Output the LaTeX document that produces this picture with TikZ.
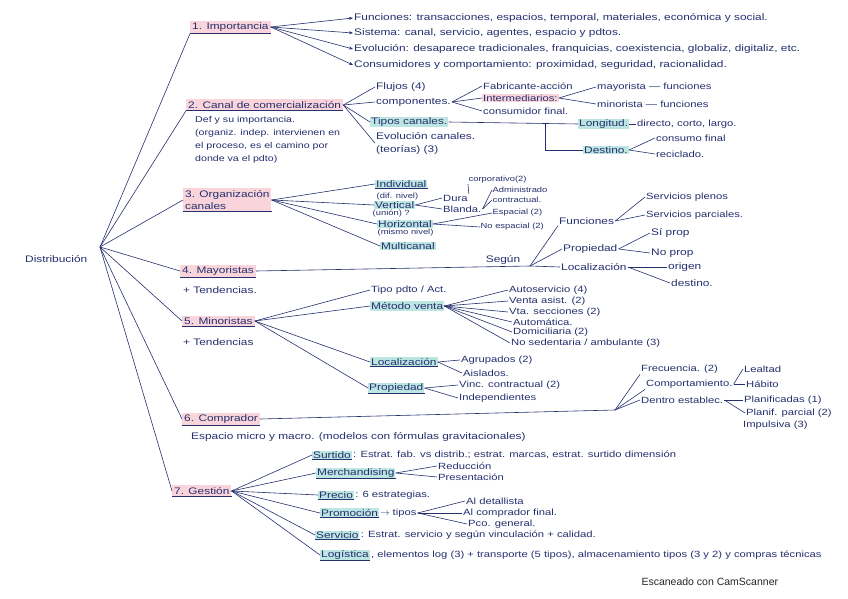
\documentclass[tikz,border=0pt]{standalone}
\usepackage{fontspec}
\setmainfont[FakeStretch=1.25]{Liberation Sans}
\newfontfamily\scanfont{Liberation Sans}
\usepackage{xcolor}
\usepackage{tikz}
\usetikzlibrary{arrows.meta}

\definecolor{ink}{HTML}{26306E}
\definecolor{pinkhl}{HTML}{F9D5DB}
\definecolor{tealhl}{HTML}{BDE6E2}

\begin{document}
\begin{tikzpicture}[x=1pt,y=-1pt,
  txt/.style={anchor=west,inner sep=1pt,text=ink,font=\fontsize{9.5}{13}\selectfont},
  sml/.style={txt,font=\fontsize{9}{10}\selectfont},
  tny/.style={txt,inner sep=0.5pt,font=\fontsize{7.5}{8}\selectfont},
  sec/.style={txt,fill=pinkhl,inner sep=2pt,font=\fontsize{9.5}{12}\selectfont},
  key/.style={txt,fill=tealhl},
  ul/.style={append after command={(\tikzlastnode.south west) edge[ink,line width=0.7pt] (\tikzlastnode.south east)}},
  br/.style={draw=ink,line width=0.6pt},
  arr/.style={br,-{Stealth[length=4pt]}}]
  \useasboundingbox[fill=white] (0,0) rectangle (848,599);

  \node[txt] (dist) at (24,259) {Distribución};
  \coordinate (hub) at (100,247);

  \node[sec,ul] (imp) at (190,27) {1. Importancia};
  \node[sec,ul] (can) at (186,105) {2. Canal de comercialización};
  \node[sec,ul,align=left] (org) at (183,200) {3. Organización\\canales};
  \node[sec,ul] (myr) at (180,271) {4. Mayoristas};
  \node[sec,ul] (mnr) at (182,321) {5. Minoristas};
  \node[sec,ul] (cmpr) at (182,419) {6. Comprador};
  \node[sec,ul] (ges) at (172,491) {7. Gestión};
  \draw[br] (hub) -- (imp.south west);
  \draw[br] (hub) -- (can.south west);
  \draw[br] (hub) -- (org.west);
  \draw[br] (hub) -- (myr.west);
  \draw[br] (hub) -- (mnr.west);
  \draw[br] (hub) -- (cmpr.west);
  \draw[br] (hub) -- (ges.west);

  \node[txt] (fun) at (353,18) {Funciones: transacciones, espacios, temporal, materiales, económica y social.};
  \node[txt] (sis) at (353,33) {Sistema: canal, servicio, agentes, espacio y pdtos.};
  \node[txt] (evo) at (353,49) {Evolución: desaparece tradicionales, franquicias, coexistencia, globaliz, digitaliz, etc.};
  \node[txt] (con) at (353,65) {Consumidores y comportamiento: proximidad, seguridad, racionalidad.};
  \draw[arr] (imp.east) -- (fun.west);
  \draw[arr] (imp.east) -- (sis.west);
  \draw[arr] (imp.east) -- (evo.west);
  \draw[arr] (imp.east) -- (con.west);

  \node[txt,align=left,anchor=north west,font=\fontsize{8.5}{13}\selectfont] (def) at (194,115) {Def y su importancia.\\(organiz. indep. intervienen en\\el proceso, es el camino por\\donde va el pdto)};
  \node[txt] (flu) at (375,87) {Flujos (4)};
  \node[txt] (cmp) at (375,102) {componentes.};
  \node[key] (tip) at (370,122) {Tipos canales.};
  \node[txt,align=left,anchor=north west] (evc) at (375,131) {Evolución canales.\\(teorías) (3)};
  \draw[br] (can.east) -- (flu.west);
  \draw[br] (can.east) -- (cmp.west);
  \draw[br] (can.east) -- (tip.west);
  \draw[br] (can.east) -- (evc.west);
  \node[sml] (fab) at (482,86) {Fabricante-acción};
  \node[sml,fill=pinkhl] (int) at (482,98) {Intermediarios:};
  \node[sml] (cfi) at (482,111) {consumidor final.};
  \draw[br] (cmp.east) -- (fab.west);
  \draw[br] (cmp.east) -- (int.west);
  \draw[br] (cmp.east) -- (cfi.west);
  \node[sml] (may1) at (596,87) {mayorista — funciones};
  \node[sml] (min1) at (596,104) {minorista — funciones};
  \draw[br] (int.east) -- (may1.west);
  \draw[br] (int.east) -- (min1.west);
  \node[key] (lon) at (578,124) {Longitud.};
  \node[sml] (lonx) at (636,124) {directo, corto, largo.};
  \node[key] (des) at (583,150) {Destino.};
  \coordinate (tj) at (545,124);
  \draw[br] (tip.east) -- (lon.west);
  \draw[br] (lon.east) -- (lonx.west);
  \draw[br] (tj) |- (des.west);
  \node[sml] (cfn) at (655,138) {consumo final};
  \node[sml] (rec) at (655,154) {reciclado.};
  \draw[br] (des.east) -- (cfn.west);
  \draw[br] (des.east) -- (rec.west);

  \node[key,ul] (ind) at (375,184) {Individual};
  \node[tny] (difn) at (376,197) {(dif. nivel)};
  \node[key] (ver) at (374,205) {Vertical};
  \node[tny] (uni) at (372,214) {(unión) ?};
  \node[key] (hor) at (377,224) {Horizontal};
  \node[tny] (misn) at (377,233) {(mismo nivel)};
  \node[key] (mul) at (380,246) {Multicanal};
  \draw[br] (org.east) -- (ind.west);
  \draw[br] (org.east) -- (ver.west);
  \draw[br] (org.east) -- (hor.west);
  \draw[br] (org.east) -- (mul.west);
  \node[sml] (dur) at (442,198) {Dura};
  \node[sml] (bla) at (442,209) {Blanda.};
  \draw[br] (ver.east) -- (dur.west);
  \draw[br] (ver.east) -- (bla.west);
  \node[tny] (cor) at (468,180) {corporativo(2)};
  \draw[br] (dur.north east) -- (cor.south west);
  \node[tny] (adm) at (492,190) {Administrado};
  \node[tny] (ctr) at (492,200) {contractual.};
  \draw[br] (bla.east) -- (adm.west);
  \draw[br] (bla.east) -- (ctr.west);
  \node[tny] (esp) at (492,213) {Espacial (2)};
  \node[tny] (noe) at (480,227) {No espacial (2)};
  \draw[br] (hor.east) -- (esp.west);
  \draw[br] (hor.east) -- (noe.west);

  \node[txt] (myrt) at (182,290) {+ Tendencias.};
  \coordinate (seg) at (530,266);
  \node[txt,anchor=south] (segl) at (503,266) {Según};
  \draw[br] (myr.east) -- (seg);
  \node[txt] (fnc) at (558,221) {Funciones};
  \node[txt] (prp) at (562,249) {Propiedad};
  \node[txt] (loc) at (560,267) {Localización};
  \draw[br] (seg) -- (fnc.south west);
  \draw[br] (seg) -- (prp.west);
  \draw[br] (seg) -- (loc.west);
  \node[sml] (spl) at (645,197) {Servicios plenos};
  \node[sml] (spa) at (645,215) {Servicios parciales.};
  \draw[br] (fnc.east) -- (spl.west);
  \draw[br] (fnc.east) -- (spa.west);
  \node[txt] (sip) at (650,233) {Sí prop};
  \node[txt] (nop) at (650,253) {No prop};
  \draw[br] (prp.east) -- (sip.west);
  \draw[br] (prp.east) -- (nop.west);
  \node[txt] (ori) at (667,267) {origen};
  \node[txt] (dst) at (670,283) {destino.};
  \draw[br] (loc.east) -- (ori.west);
  \draw[br] (loc.east) -- (dst.west);

  \node[txt] (mnrt) at (182,342) {+ Tendencias};
  \node[sml] (tpa) at (370,290) {Tipo pdto / Act.};
  \node[key] (mev) at (370,306) {Método venta};
  \node[key,ul] (loc5) at (370,362) {Localización};
  \node[key,ul] (prp5) at (368,388) {Propiedad};
  \draw[br] (mnr.east) -- (tpa.west);
  \draw[br] (mnr.east) -- (mev.west);
  \draw[br] (mnr.east) -- (loc5.west);
  \draw[br] (mnr.east) -- (prp5.west);
  \node[sml] (aut) at (508,290) {Autoservicio (4)};
  \node[sml] (vas) at (508,301) {Venta asist. (2)};
  \node[sml] (vse) at (508,312) {Vta. secciones (2)};
  \node[sml] (atm) at (512,322) {Automática.};
  \node[sml] (dom) at (512,332) {Domiciliaria (2)};
  \node[sml] (nse) at (510,343) {No sedentaria / ambulante (3)};
  \draw[br] (mev.east) -- (aut.west);
  \draw[br] (mev.east) -- (vas.west);
  \draw[br] (mev.east) -- (vse.west);
  \draw[br] (mev.east) -- (atm.west);
  \draw[br] (mev.east) -- (dom.west);
  \draw[br] (mev.east) -- (nse.west);
  \node[sml] (agr) at (460,360) {Agrupados (2)};
  \node[sml] (ais) at (462,373) {Aislados.};
  \draw[br] (loc5.east) -- (agr.west);
  \draw[br] (loc5.east) -- (ais.west);
  \node[sml] (vin) at (458,385) {Vinc. contractual (2)};
  \node[sml] (ind5) at (458,398) {Independientes};
  \draw[br] (prp5.east) -- (vin.west);
  \draw[br] (prp5.east) -- (ind5.west);

  \node[txt] (esm) at (190,437) {Espacio micro y macro. (modelos con fórmulas gravitacionales)};
  \coordinate (cj) at (615,410);
  \draw[br] (cmpr.east) -- (cj);
  \node[sml] (fre) at (640,369) {Frecuencia. (2)};
  \node[sml] (cpm) at (645,384) {Comportamiento.};
  \node[sml] (den) at (640,400) {Dentro establec.};
  \draw[br] (cj) -- (fre.south west);
  \draw[br] (cj) -- (cpm.south west);
  \draw[br] (cj) -- (den.west);
  \node[sml] (lea) at (743,369) {Lealtad};
  \node[sml] (hab) at (745,384) {Hábito};
  \draw[br] (cpm.east) -- (lea.west);
  \draw[br] (cpm.east) -- (hab.west);
  \node[sml] (pla) at (743,400) {Planificadas (1)};
  \node[sml] (ppa) at (745,413) {Planif. parcial (2)};
  \node[sml] (imv) at (742,425) {Impulsiva (3)};
  \draw[br] (den.east) -- (pla.west);
  \draw[br] (den.east) -- (ppa.west);

  \node[key,ul] (sur) at (312,455) {Surtido};
  \node[sml] (surx) at (sur.east) {: Estrat. fab. vs distrib.; estrat. marcas, estrat. surtido dimensión};
  \node[key,ul] (mer) at (316,473) {Merchandising};
  \node[sml] (red) at (437,466) {Reducción};
  \node[sml] (pre) at (437,477) {Presentación};
  \draw[br] (mer.east) -- (red.west);
  \draw[br] (mer.east) -- (pre.west);
  \node[key,ul] (prc) at (318,495) {Precio};
  \node[sml] (prcx) at (prc.east) {: 6 estrategias.};
  \node[key,ul] (pro) at (320,513) {Promoción};
  \node[sml] (prox) at (pro.east) {$\rightarrow$ tipos};
  \node[sml] (ald) at (465,501) {Al detallista};
  \node[sml] (alc) at (462,513) {Al comprador final.};
  \node[sml] (pco) at (467,524) {Pco. general.};
  \draw[br] (prox.east) -- (ald.west);
  \draw[br] (prox.east) -- (alc.west);
  \draw[br] (prox.east) -- (pco.west);
  \node[key,ul] (ser) at (315,535) {Servicio};
  \node[sml] (serx) at (ser.east) {: Estrat. servicio y según vinculación + calidad.};
  \node[key,ul] (lgs) at (320,555) {Logística};
  \node[sml] (lgsx) at (lgs.east) {, elementos log (3) + transporte (5 tipos), almacenamiento tipos (3 y 2) y compras técnicas};
  \draw[br] (ges.east) -- (sur.west);
  \draw[br] (ges.east) -- (mer.west);
  \draw[br] (ges.east) -- (prc.west);
  \draw[br] (ges.east) -- (pro.west);
  \draw[br] (ges.east) -- (ser.west);
  \draw[br] (ges.east) -- (lgs.west);

  \node[anchor=west,text=black!85,font=\scanfont\fontsize{10.5}{12}\selectfont] (scan) at (638,582) {Escaneado con CamScanner};
\end{tikzpicture}
\end{document}
